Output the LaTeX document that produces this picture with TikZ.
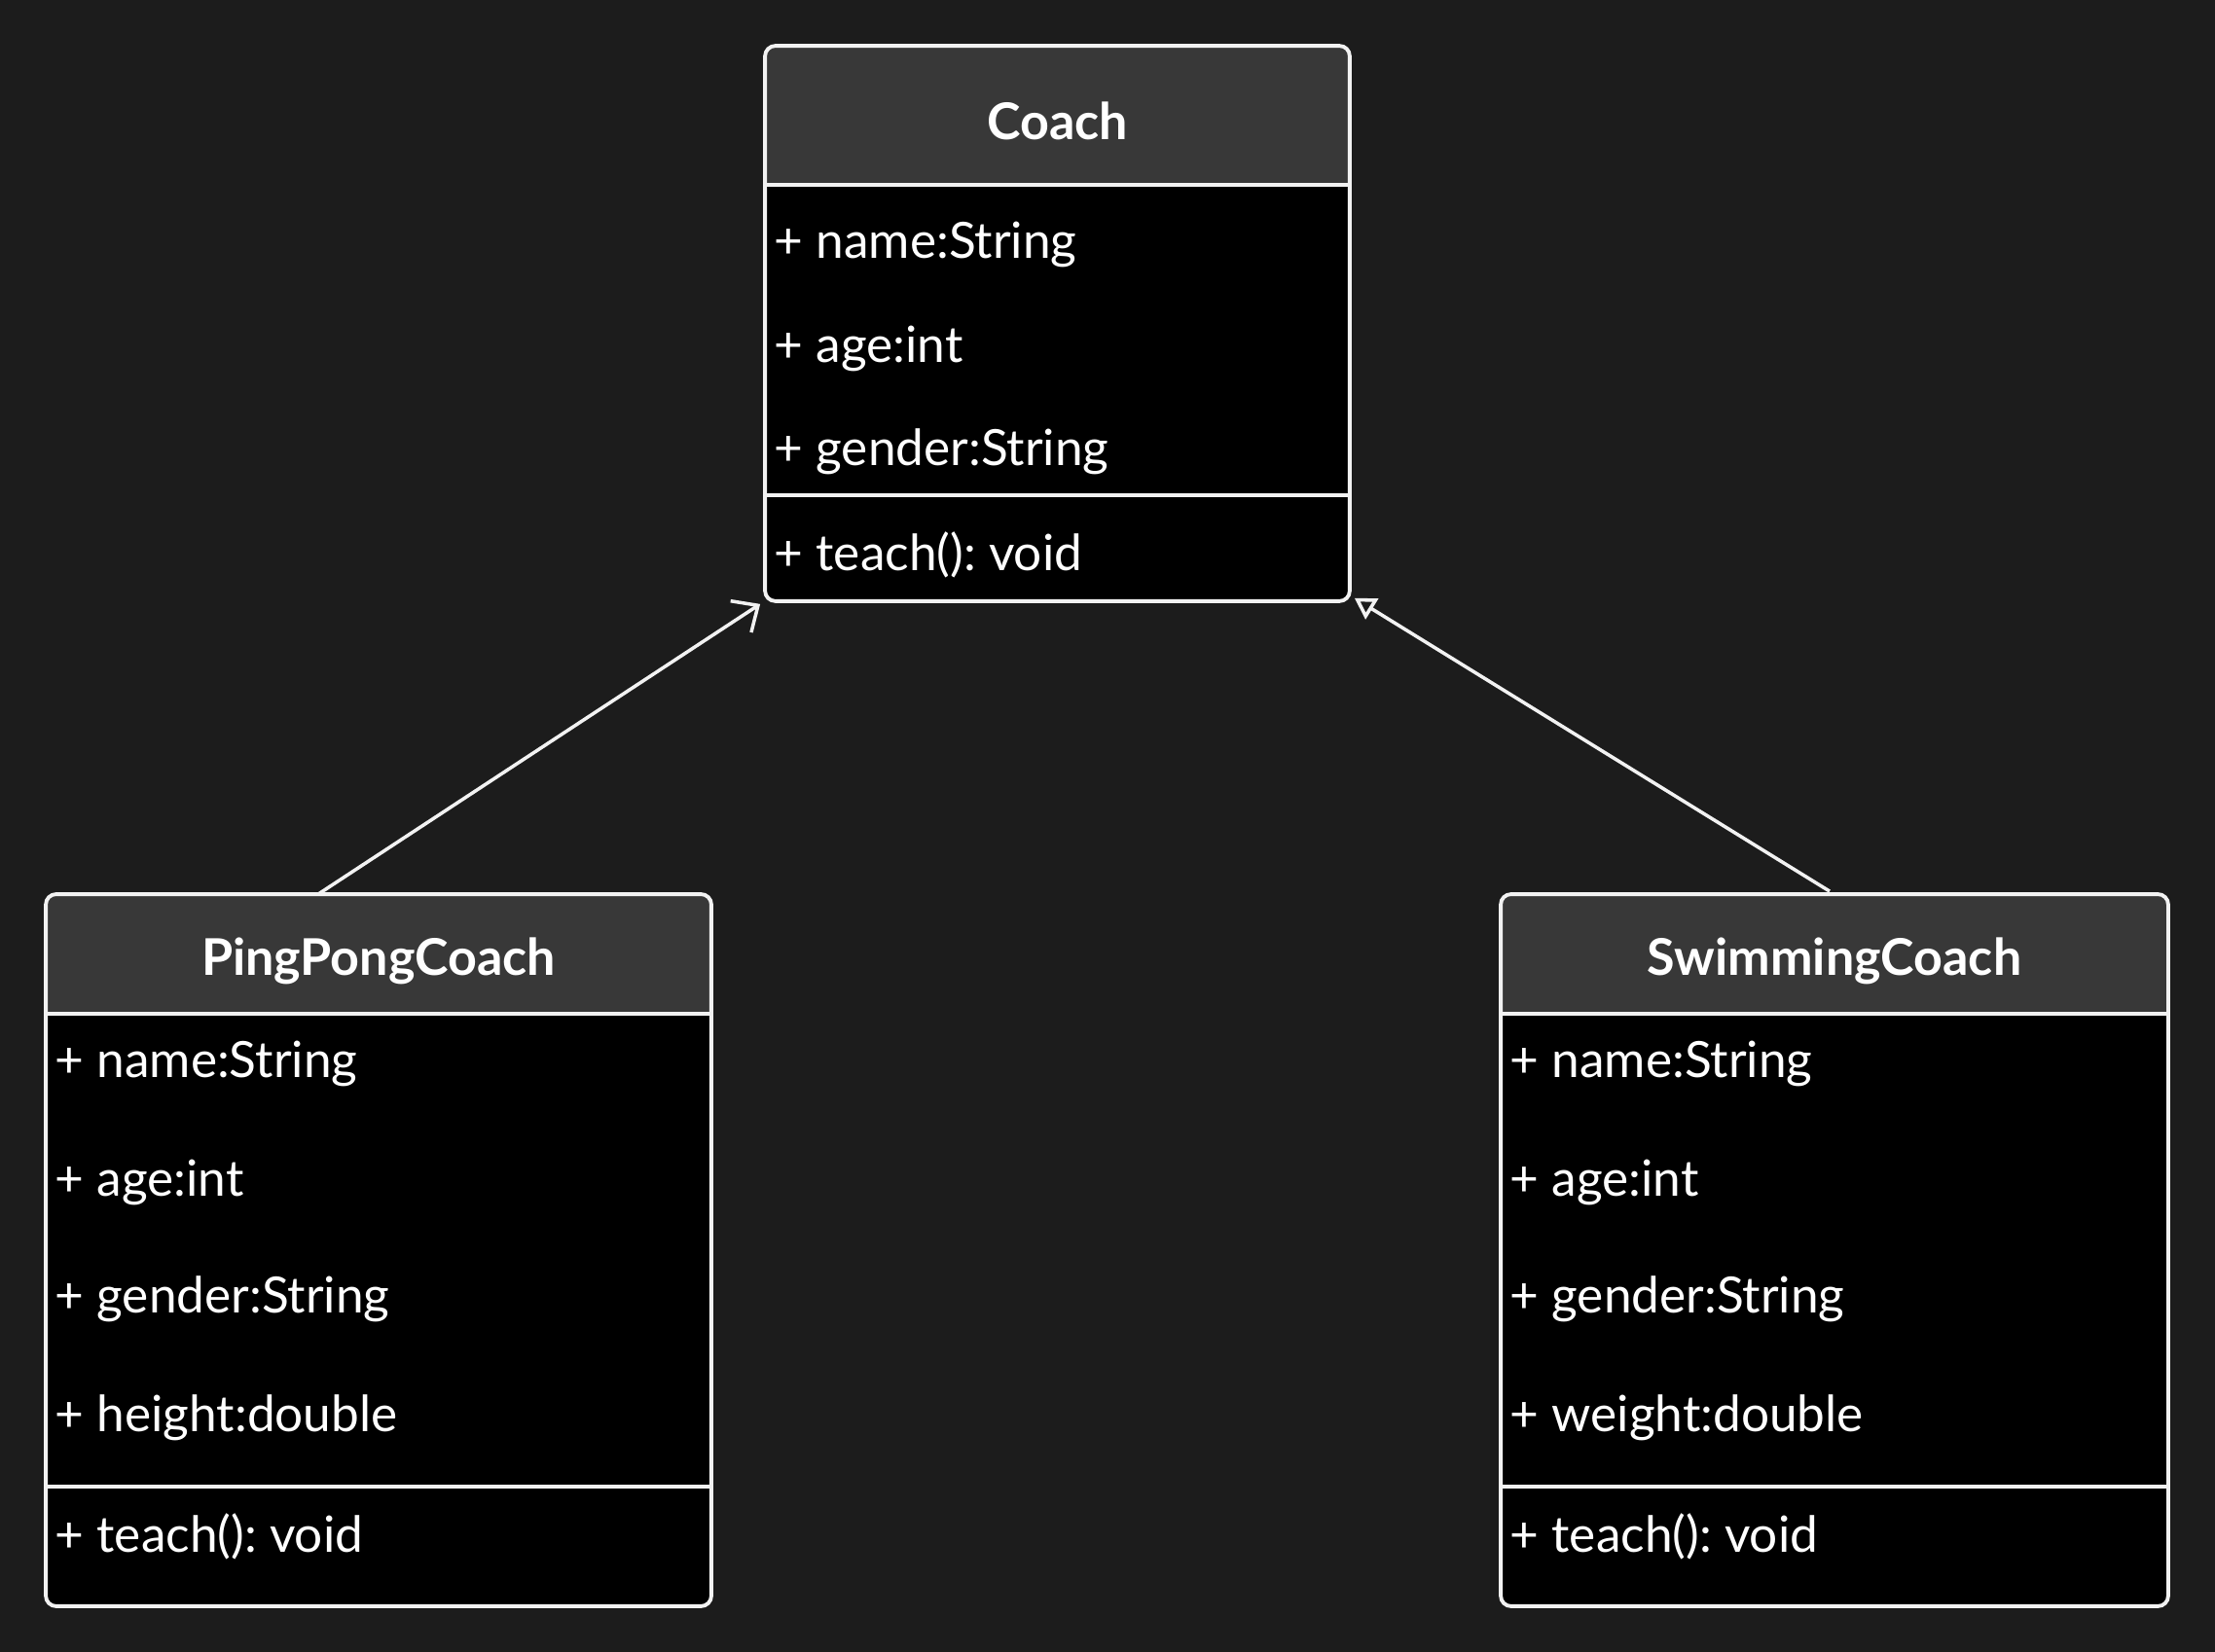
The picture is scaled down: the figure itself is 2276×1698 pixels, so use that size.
\documentclass[tikz,border=0pt]{standalone}
\usepackage{fontspec}
\setmainfont{Lato}
\usetikzlibrary{arrows.meta}
\definecolor{canvas}{HTML}{1C1C1C}
\definecolor{headgray}{HTML}{383838}
\definecolor{edgewhite}{HTML}{F2F2F2}
\frenchspacing

\begin{document}
\begin{tikzpicture}[x=0.01cm,y=-0.01cm]
  \tikzset{class body/.style={fill=black,inner sep=0pt,rounded corners=3pt,minimum width=#1},
    class line/.style={draw=edgewhite,line width=1.1pt},
    class title/.style={text=white,inner sep=0pt,font=\bfseries\fontsize{14.8}{18}\selectfont},
    member/.style={anchor=west,inner sep=0pt,text=white,font=\fontsize{14.6}{18}\selectfont},
    inherit/.style={draw=edgewhite,line width=1pt}}

  \fill[canvas] (0,0) rectangle (2276,1698);
  \useasboundingbox (0,0) rectangle (2276,1698);

  % Coach
  \node [class body=5.99cm,minimum height=5.69cm] (coach) at (1086.5,332.5) {};
  \fill[headgray,rounded corners=3pt] (coach.west |- 0,190) -- (coach.north west) -- (coach.north east) -- (coach.east |- 0,190);
  \draw[class line] (coach.west |- 0,190) -- (coach.east |- 0,190);
  \draw[class line] (coach.west |- 0,509) -- (coach.east |- 0,509);
  \draw[class line,rounded corners=3pt] (coach.north west) rectangle (coach.south east);
  \node[class title] (coachtitle) at (1086.5,124) {Coach};
  \node[member] (coachname) at (795,251) {+ name:String};
  \node[member] (coachage) at (795,358) {+ age:int};
  \node[member] (coachgender) at (795,464) {+ gender:String};
  \node[member] (coachteach) at (795,570) {+ teach(): void};

  % PingPongCoach
  \node [class body=6.82cm,minimum height=7.30cm] (ppc) at (389,1285) {};
  \fill[headgray,rounded corners=3pt] (ppc.west |- 0,1042) -- (ppc.north west) -- (ppc.north east) -- (ppc.east |- 0,1042);
  \draw[class line] (ppc.west |- 0,1042) -- (ppc.east |- 0,1042);
  \draw[class line] (ppc.west |- 0,1528) -- (ppc.east |- 0,1528);
  \draw[class line,rounded corners=3pt] (ppc.north west) rectangle (ppc.south east);
  \node[class title] (ppctitle) at (389,988) {PingPongCoach};
  \node[member] (ppcname) at (56,1093) {+ name:String};
  \node[member] (ppcage) at (56,1215) {+ age:int};
  \node[member] (ppcgender) at (56,1335) {+ gender:String};
  \node[member] (ppcheight) at (56,1457) {+ height:double};
  \node[member] (ppcteach) at (56,1579) {+ teach(): void};

  % SwimmingCoach
  \node [class body=6.84cm,minimum height=7.30cm] (swim) at (1885,1285) {};
  \fill[headgray,rounded corners=3pt] (swim.west |- 0,1042) -- (swim.north west) -- (swim.north east) -- (swim.east |- 0,1042);
  \draw[class line] (swim.west |- 0,1042) -- (swim.east |- 0,1042);
  \draw[class line] (swim.west |- 0,1528) -- (swim.east |- 0,1528);
  \draw[class line,rounded corners=3pt] (swim.north west) rectangle (swim.south east);
  \node[class title] (swimtitle) at (1885,988) {SwimmingCoach};
  \node[member] (swimname) at (1551,1093) {+ name:String};
  \node[member] (swimage) at (1551,1215) {+ age:int};
  \node[member] (swimgender) at (1551,1335) {+ gender:String};
  \node[member] (swimweight) at (1551,1457) {+ weight:double};
  \node[member] (swimteach) at (1551,1579) {+ teach(): void};

  \draw[inherit,-{Straight Barb[length=6pt,width=11pt]}] ([xshift=-0.62cm]ppc.north) -- ([shift={(-5,3)}]coach.south west);
  \draw[inherit,-{Triangle[open,length=6pt,width=7pt]}] ([shift={(-5,-3)}]swim.north) -- ([shift={(5,-3)}]coach.south east);
\end{tikzpicture}
\end{document}
